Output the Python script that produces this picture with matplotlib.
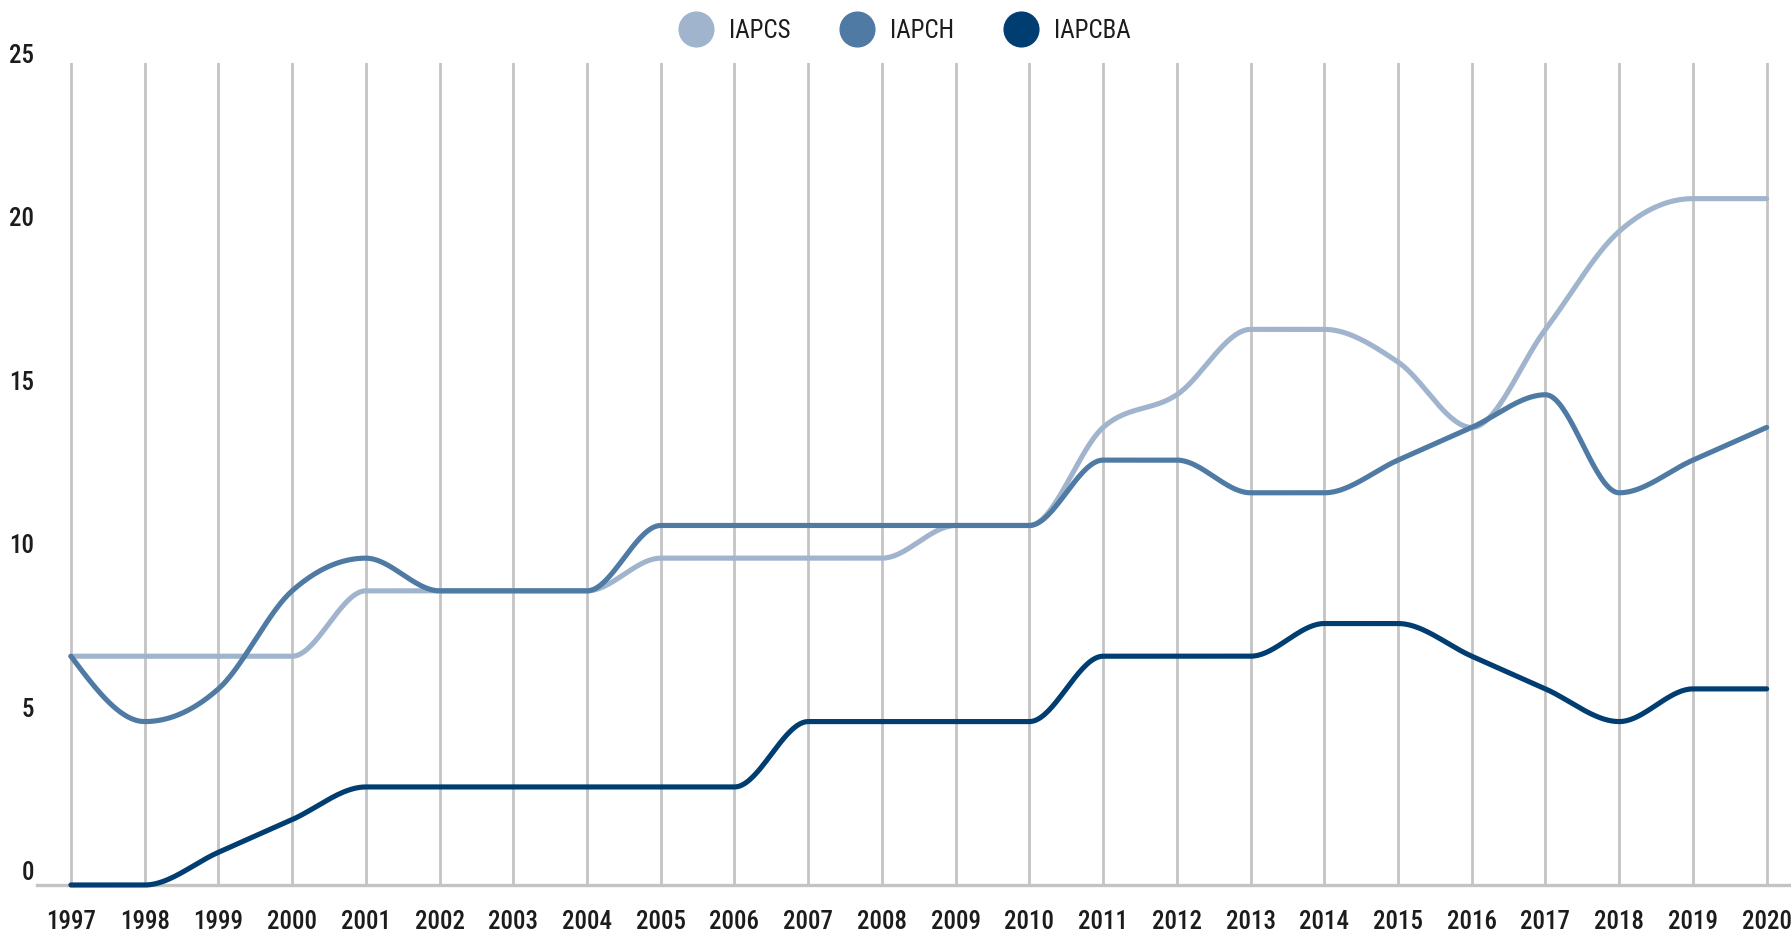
"""Line chart of IAPCS, IAPCH and IAPCBA, 1997-2020, with monotone smoothing."""

import matplotlib

matplotlib.use("Agg")
import matplotlib.pyplot as plt
import numpy as np
from matplotlib import font_manager
from matplotlib.lines import Line2D

YEARS = list(range(1997, 2021))
IAPCS = [7, 7, 7, 7, 9, 9, 9, 9, 10, 10, 10, 10, 11, 11, 14, 15, 17, 17, 16, 14, 17, 20, 21, 21]
IAPCH = [7, 5, 6, 9, 10, 9, 9, 9, 11, 11, 11, 11, 11, 11, 13, 13, 12, 12, 13, 14, 15, 12, 13, 14]
IAPCBA = [0, 0, 1, 2, 3, 3, 3, 3, 3, 3, 5, 5, 5, 5, 7, 7, 7, 8, 8, 7, 6, 5, 6, 6]

SERIES = ["IAPCS", "IAPCH", "IAPCBA"]
COLORS = ["#A0B4CD", "#4F7AA3", "#003D71"]
Y_TICKS = [0, 5, 10, 15, 20, 25]

TEXT_COLOR = "#1c1c1c"
GRID_COLOR = "#C4C4C4"


def pick_font():
    """Use a condensed face if one is installed."""
    names = {f.name for f in font_manager.fontManager.ttflist}
    for cand in ["Roboto Condensed", "Liberation Sans Narrow", "Open Sans Condensed",
                 "DejaVu Sans Condensed", "Noto Sans Condensed"]:
        if cand in names:
            return cand
    for f in font_manager.fontManager.ttflist:
        if "Condensed" in f.name or "Narrow" in f.name:
            return f.name
    return "Roboto"


def monotone_curve(x, y, n=40):
    """Monotone cubic (same as d3.curveMonotoneX)."""
    x = np.asarray(x, float)
    y = np.asarray(y, float)
    h = np.diff(x)
    s = np.diff(y) / h
    t = np.zeros(len(x))
    for i in range(1, len(x) - 1):
        p = (s[i - 1] * h[i] + s[i] * h[i - 1]) / (h[i - 1] + h[i])
        sg = (1 if s[i - 1] >= 0 else -1) + (1 if s[i] >= 0 else -1)
        t[i] = sg * min(abs(s[i - 1]), abs(s[i]), 0.5 * abs(p))
    t[0] = (3 * s[0] - t[1]) / 2
    t[-1] = (3 * s[-1] - t[-2]) / 2

    xs, ys = [], []
    u = np.linspace(0, 1, n)
    h00 = 2 * u**3 - 3 * u**2 + 1
    h10 = u**3 - 2 * u**2 + u
    h01 = -2 * u**3 + 3 * u**2
    h11 = u**3 - u**2
    for i in range(len(x) - 1):
        dx = h[i]
        seg = h00 * y[i] + h10 * dx * t[i] + h01 * y[i + 1] + h11 * dx * t[i + 1]
        xs.append(x[i] + u * dx)
        ys.append(seg)
    return np.concatenate(xs), np.concatenate(ys)


def main() -> None:
    font = pick_font()
    plt.rcParams["font.family"] = [font, "DejaVu Sans"]

    fig = plt.figure(figsize=(17.91, 9.31), dpi=100)
    ax = fig.add_axes([37 / 1791, 1 - 885 / 931, 1 - 37 / 1791, (885 - 63) / 931])

    for name, values, color in zip(SERIES, [IAPCS, IAPCH, IAPCBA], COLORS):
        xs, ys = monotone_curve(YEARS, values)
        ax.plot(xs, ys, color=color, lw=3.7, solid_capstyle="round",
                clip_on=False, zorder=3, label=name)

    ax.set_xlim(1996.54, 2020.33)
    ax.set_ylim(0, 25.15)

    ax.set_xticks(YEARS)
    ax.set_xticklabels([str(y) for y in YEARS], fontsize=18, color=TEXT_COLOR,
                       fontweight=500)
    ax.set_yticks(Y_TICKS)
    ax.set_yticklabels([str(v) for v in Y_TICKS], fontsize=18, color=TEXT_COLOR,
                       fontweight=500)
    for lab in ax.get_yticklabels():
        lab.set_verticalalignment("bottom")

    ax.tick_params(axis="both", length=0)
    ax.tick_params(axis="x", pad=18)
    ax.tick_params(axis="y", pad=2)
    ax.grid(axis="x", color=GRID_COLOR, lw=2.0)
    ax.grid(axis="y", visible=False)
    ax.set_axisbelow(True)

    for side in ["top", "right", "left"]:
        ax.spines[side].set_visible(False)
    ax.spines["bottom"].set_color(GRID_COLOR)
    ax.spines["bottom"].set_linewidth(2.4)

    handles = [Line2D([], [], ls="", marker="o", ms=25, color=c, mec=c) for c in COLORS]
    fig.legend(handles, SERIES, loc="center", bbox_to_anchor=(0.505, 1 - 31 / 931),
               ncol=3, frameon=False, fontsize=18, handlelength=1.4,
               handletextpad=0.64, columnspacing=1.95, labelcolor=TEXT_COLOR)

    fig.savefig("out.png", dpi=100)
    plt.close(fig)


if __name__ == "__main__":
    main()
